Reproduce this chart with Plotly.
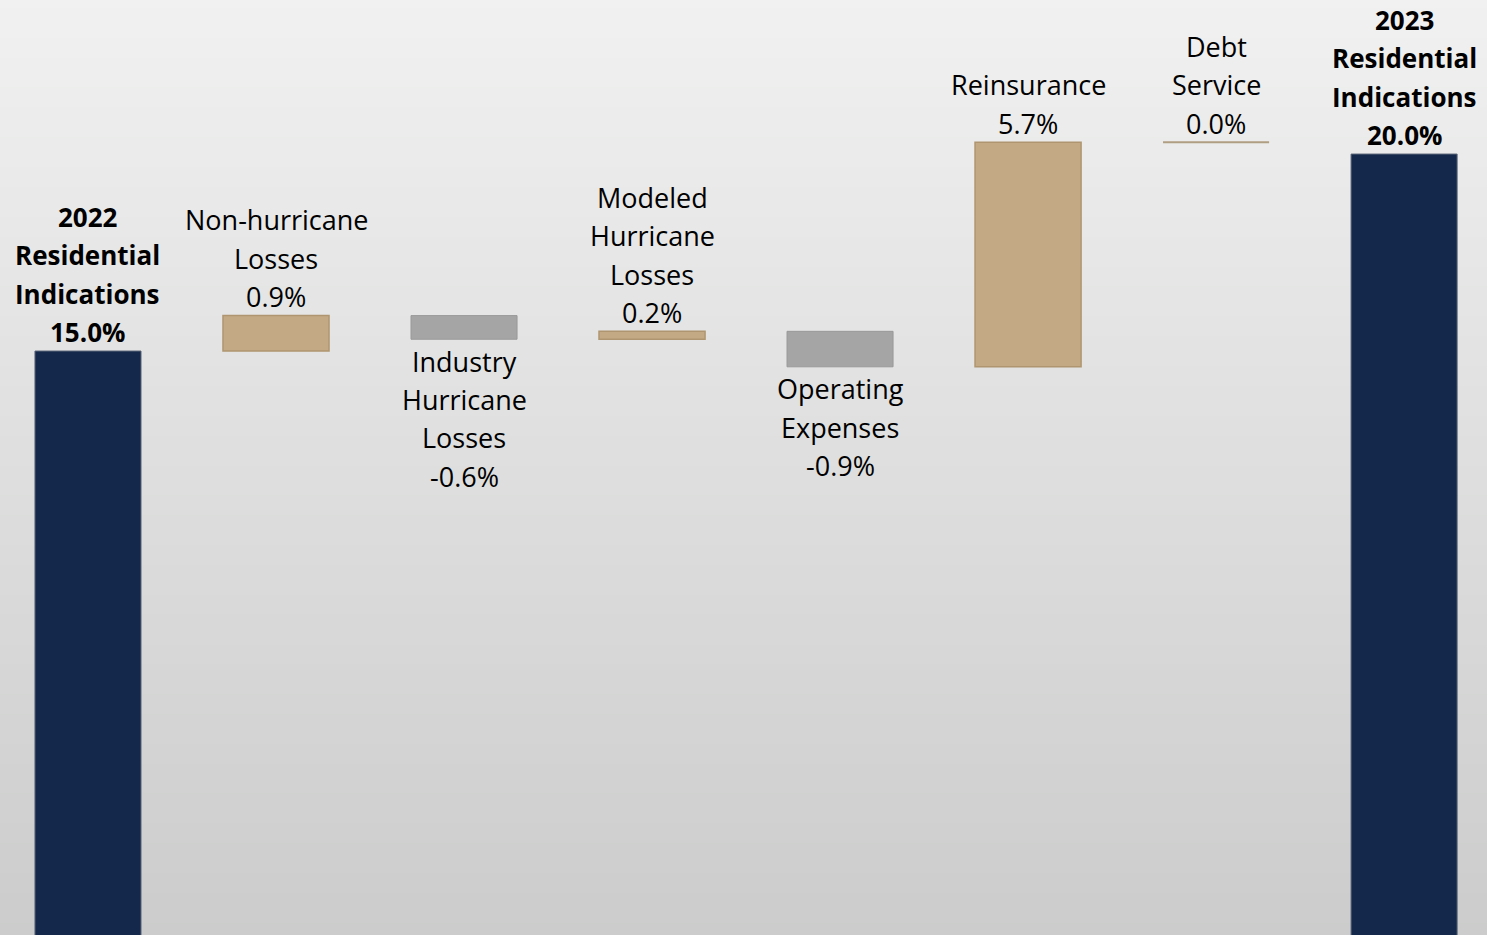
import plotly.graph_objects as go

# ---- data ----
categories = ["2022 Residential Indications", "Non-hurricane Losses", "Industry Hurricane Losses",
              "Modeled Hurricane Losses", "Operating Expenses", "Reinsurance", "Debt Service",
              "2023 Residential Indications"]
label_lines = [["2022", "Residential", "Indications"],
               ["Non-hurricane", "Losses"],
               ["Industry", "Hurricane", "Losses"],
               ["Modeled", "Hurricane", "Losses"],
               ["Operating", "Expenses"],
               ["Reinsurance"],
               ["Debt", "Service"],
               ["2023", "Residential", "Indications"]]
values = [15.0, 0.9, -0.6, 0.2, -0.9, 5.7, 0.0, 20.0]
measures = ["absolute", "relative", "relative", "relative", "relative", "relative", "relative", "absolute"]
value_labels = ["15.0%", "0.9%", "-0.6%", "0.2%", "-0.9%", "5.7%", "0.0%", "20.0%"]

NAVY = "#13284a"
TAN = "#c4aa84"
GRAY = "#a5a5a5"
FONT = "Open Sans"
GAP = 0.436

fig = go.Figure()
fig.add_trace(go.Waterfall(
    x=categories, y=values, measure=measures,
    connector=dict(visible=False),
    increasing=dict(marker=dict(color=TAN, line=dict(color="#b09670", width=1.5))),
    decreasing=dict(marker=dict(color=GRAY, line=dict(color="#999999", width=1))),
    totals=dict(marker=dict(color=NAVY, line=dict(color="#5b6478", width=1))),
    textinfo="none", hoverinfo="skip",
))

# ---- labels ----
annotations = []
shapes = []
cum = 0.0
LINE = 38.3
for i, (cat, v, m) in enumerate(zip(categories, values, measures)):
    if m == "absolute":
        start, end = 0.0, v
        cum = v
    else:
        start, end = cum, cum + v
        cum = end
    bold = m == "absolute"
    size = 26 if bold else 27
    lines = label_lines[i] + [value_labels[i]]
    if v == 0:
        # zero-change step drawn as a thin line at the running level
        half = (1 - GAP) / 2
        shapes.append(dict(type="line", xref="x", yref="y", x0=i - half, x1=i + half,
                           y0=end, y1=end, line=dict(color="#b09e82", width=2), layer="above"))
    if v >= 0:
        anchor_y = max(start, end)
        n = len(lines)
        for k, t in enumerate(lines):
            shift = 19 + LINE * (n - 1 - k)
            annotations.append(dict(x=cat, y=anchor_y, xref="x", yref="y", yanchor="middle",
                                    yshift=shift, showarrow=False,
                                    text=f"<b>{t}</b>" if bold else t,
                                    font=dict(family=FONT, size=size, color="#000000")))
    else:
        anchor_y = min(start, end)
        for k, t in enumerate(lines):
            shift = -(22 + LINE * k)
            annotations.append(dict(x=cat, y=anchor_y, xref="x", yref="y", yanchor="middle",
                                    yshift=shift, showarrow=False, text=t,
                                    font=dict(family=FONT, size=size, color="#000000")))

# ---- gradient background ----
N = 94
c0 = (0xf0, 0xf1, 0xf0)
c1 = (0xcb, 0xcc, 0xcb)
for j in range(N):
    t = (j + 0.5) / N
    col = tuple(round(a + (b - a) * t) for a, b in zip(c0, c1))
    shapes.append(dict(type="rect", xref="paper", yref="paper", x0=0, x1=1,
                       y0=1 - (j + 1) / N, y1=1 - j / N + 0.002, layer="below",
                       line=dict(width=0), fillcolor="rgb(%d,%d,%d)" % col))

fig.update_layout(
    width=1487, height=935,
    margin=dict(l=0, r=0, t=0, b=0),
    paper_bgcolor="#e0e1e0", plot_bgcolor="rgba(0,0,0,0)",
    waterfallgap=GAP,
    showlegend=False,
    xaxis=dict(visible=False, range=[-0.468, 7.441]),
    yaxis=dict(visible=False, range=[0.178, 23.91]),
    annotations=annotations,
    shapes=shapes,
    font=dict(family=FONT),
)

fig.write_html("out.html", config={"displayModeBar": False},
               post_script="document.body.style.margin='0px';")
